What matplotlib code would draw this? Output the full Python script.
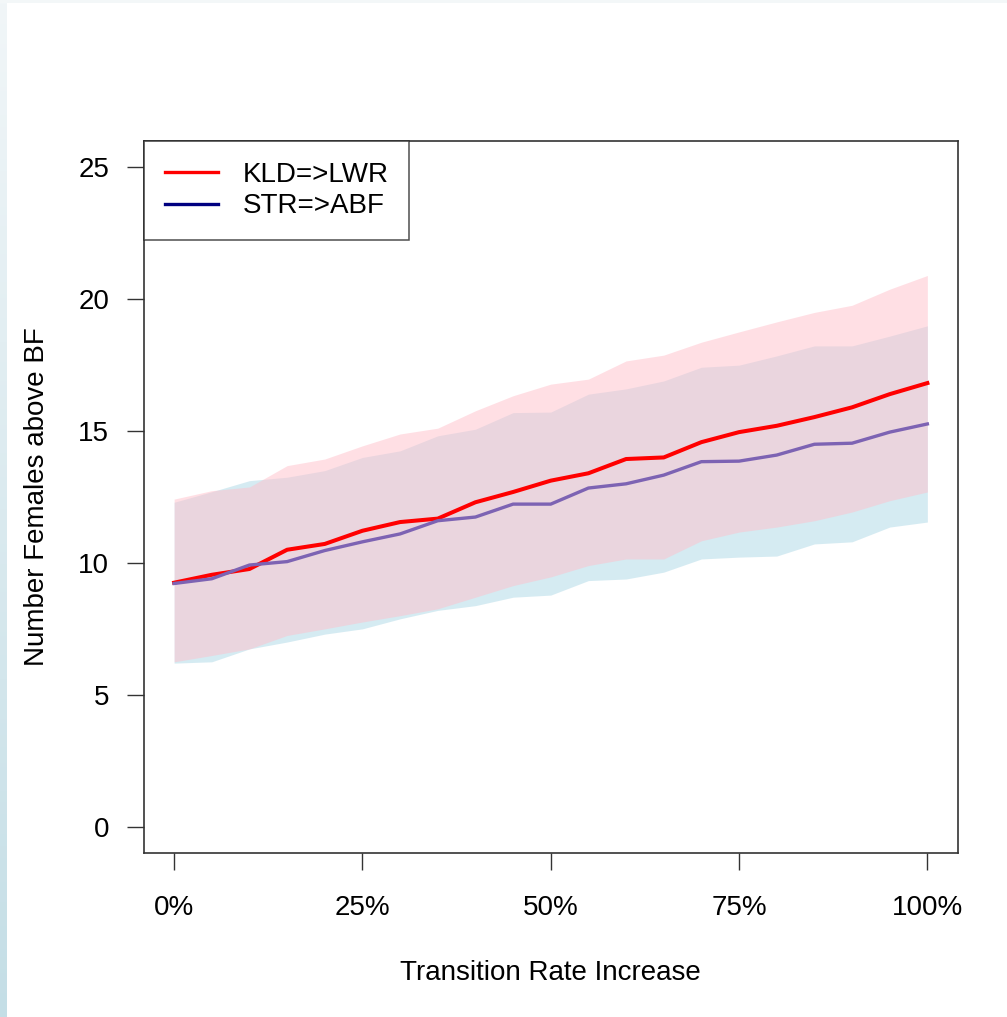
import matplotlib.pyplot as plt
import numpy as np
from matplotlib.lines import Line2D

plt.rcParams['font.family'] = ['Liberation Sans', 'DejaVu Sans']

# transition rate increase, in percent
rate = [0, 5, 10, 15, 20, 25, 30, 35, 40, 45, 50, 55, 60, 65, 70, 75, 80, 85, 90, 95, 100]

# KLD=>LWR
kld_mean = [9.25, 9.55, 9.77, 10.5, 10.72, 11.22, 11.55, 11.68, 12.3, 12.69, 13.12,
            13.4, 13.94, 14.0, 14.58, 14.96, 15.2, 15.53, 15.9, 16.4, 16.82]
kld_hi = [12.42, 12.74, 12.88, 13.69, 13.94, 14.44, 14.89, 15.11, 15.77, 16.34, 16.78,
          16.97, 17.66, 17.88, 18.37, 18.76, 19.14, 19.5, 19.77, 20.38, 20.9]
kld_lo = [6.25, 6.49, 6.74, 7.25, 7.5, 7.76, 8.0, 8.26, 8.7, 9.14, 9.47,
          9.9, 10.15, 10.15, 10.84, 11.17, 11.36, 11.6, 11.93, 12.36, 12.69]

# STR=>ABF
str_mean = [9.22, 9.4, 9.92, 10.05, 10.47, 10.8, 11.1, 11.6, 11.74, 12.23, 12.23,
            12.84, 13.0, 13.33, 13.84, 13.86, 14.09, 14.5, 14.54, 14.96, 15.27]
str_hi = [12.3, 12.7, 13.12, 13.25, 13.5, 14.0, 14.25, 14.82, 15.07, 15.7, 15.72,
          16.4, 16.6, 16.9, 17.42, 17.5, 17.85, 18.23, 18.23, 18.6, 18.99]
str_lo = [6.2, 6.25, 6.74, 7.0, 7.3, 7.5, 7.88, 8.2, 8.38, 8.7, 8.78,
          9.33, 9.39, 9.65, 10.15, 10.22, 10.26, 10.72, 10.8, 11.36, 11.55]

xticks = [0, 25, 50, 75, 100]
xticklabels = ["0%", "25%", "50%", "75%", "100%"]
yticks = [0, 5, 10, 15, 20, 25]

fig = plt.figure(figsize=(10.07, 10.17), dpi=100)

# light frame on the left / top edge of the screenshot
strip = fig.add_axes([0, 0, 7/1007, 1])
grad = np.linspace(0, 1, 256).reshape(-1, 1)
strip.imshow(grad, aspect='auto', cmap=plt.matplotlib.colors.LinearSegmentedColormap.from_list(
    "edge", ["#c4dee6", "#f1f6f8"]), origin='lower')
strip.axis('off')
top = fig.add_axes([0, 1 - 3/1017, 1, 3/1017])
top.set_facecolor("#f3f7f8")
top.set_xticks([])
top.set_yticks([])
for s in top.spines.values():
    s.set_visible(False)

ax = fig.add_axes([144/1007, 1 - 853/1017, (957.5 - 144)/1007, (853 - 141)/1017])

ax.fill_between(rate, str_lo, str_hi, color="lightblue", alpha=0.5, linewidth=0)
ax.fill_between(rate, kld_lo, kld_hi, color="pink", alpha=0.5, linewidth=0)
ax.plot(rate, kld_mean, color="red", linewidth=2.9)
ax.plot(rate, str_mean, color="#7d63b3", linewidth=2.4)

ax.set_xlim(-4, 104)
ax.set_ylim(-1, 26)
ax.set_xticks(xticks)
ax.set_xticklabels(xticklabels)
ax.set_yticks(yticks)
ax.tick_params(direction='out', length=12, width=1, labelsize=20, pad=13, color="#333333")
ax.tick_params(axis='x', pad=18)
for s in ax.spines.values():
    s.set_color("#333333")
    s.set_linewidth(1.2)

ax.set_xlabel("Transition Rate Increase", fontsize=20, va='center')
ax.xaxis.set_label_coords(0.5, -0.168)
ax.set_ylabel("Number Females above BF", fontsize=20, va='center')
ax.yaxis.set_label_coords(-0.132, 0.5)

handles = [Line2D([], [], color="red", linewidth=2.4),
           Line2D([], [], color="navy", linewidth=2.4)]
leg = ax.legend(handles, ["KLD=>LWR", "STR=>ABF"], loc='upper left', bbox_to_anchor=(0, 1),
                borderaxespad=0, fontsize=20, frameon=True, fancybox=False,
                handlelength=1.9, handletextpad=0.9, labelspacing=0.2, borderpad=0.75)
leg.get_frame().set_edgecolor("#222222")
leg.get_frame().set_linewidth(1.1)

plt.savefig("out.png", dpi=100)
